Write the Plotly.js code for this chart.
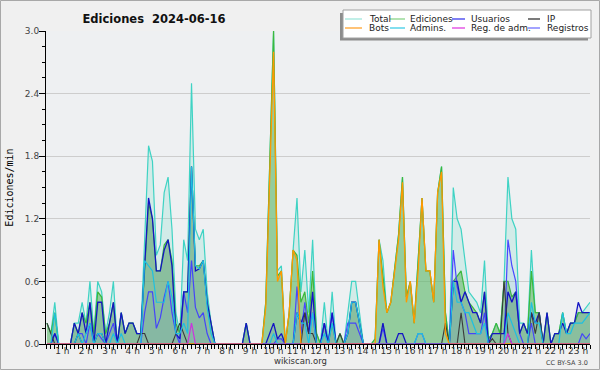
<!DOCTYPE html>
<html><head><meta charset="utf-8">
<script src="https://cdn.plot.ly/plotly-3.0.1.min.js"></script>
<style>html,body{margin:0;padding:0;background:#f0f0f0;}#chart{width:600px;height:370px;}</style>
</head><body><div id="chart"></div>
<script>
// Values in edits/min per 10-minute bin, starting at 00:00 (one row per hour)
const totalV = [
0.2,0.1,0.4,0,0,0,
0,0.2,0.2,0.4,0.2,0.6,
0.1,0.6,0.5,0.1,0.3,0.6,
0,0.3,0.1,0.2,0.2,0.1,
0.1,1.0,1.9,1.75,0.85,0.95,
1.45,1.6,1.1,0.3,0.1,1.0,
0.8,2.5,1.1,1.0,1.1,0.5,
0.2,0,0,0,0,0,
0,0,0,0.2,0,0,
0,0,0.4,1.8,3.0,0.7,
0.75,0,0.3,0.9,1.4,0.5,
0.9,0.3,1.0,0.1,0,0.4,
0,0.5,0,0.1,0,0.3,
0.6,0.6,0.3,0,0,0,
0.05,1.0,0.8,0.3,0.4,0.75,
1.05,1.6,0.45,0.6,0.2,0.8,
1.4,0.7,0.7,0.4,1.45,1.7,
0.3,0,1.5,1.2,1.1,0.8,
0.5,0.45,0.4,0.3,0.8,0.05,
0.1,0.2,0.1,0.6,1.6,1.2,
1.1,0.2,0.2,0.1,0.9,0.3,
0.3,0,0.3,0,0.1,0.1,
0.3,0.1,0.2,0.2,0.3,0.3,
0.35,0.4];
const edicionesV = [
0.2,0.1,0.3,0,0,0,
0,0.2,0.1,0.3,0.2,0.4,
0.1,0.5,0.45,0.1,0.2,0.4,
0,0.3,0.1,0.2,0.2,0.1,
0.1,0.7,1.35,1.2,0.7,0.7,
0.95,1.0,0.8,0.2,0.1,0.5,
0.5,1.7,0.75,0.75,0.8,0.4,
0.2,0,0,0,0,0,
0,0,0,0.2,0,0,
0,0,0.4,1.8,3.0,0.65,
0.7,0,0.3,0.9,0.85,0.4,
0.5,0.2,0.7,0.1,0,0.2,
0,0.2,0,0.1,0,0.1,
0.4,0.4,0.2,0,0,0,
0.05,1.0,0.65,0.3,0.4,0.75,
1.05,1.6,0.45,0.6,0.2,0.8,
1.4,0.7,0.7,0.4,1.45,1.7,
0.3,0,0.6,0.65,0.7,0.5,
0.4,0.35,0.3,0.2,0.5,0.05,
0.1,0.2,0.1,0.6,0.6,0.45,
0.5,0.1,0.2,0.1,0.7,0.3,
0.3,0,0.3,0,0.1,0.1,
0.3,0.1,0.2,0.2,0.3,0.3,
0.3,0.3];
const usuariosV = [
0,0,0.1,0,0,0,
0,0.2,0.1,0.3,0.1,0.4,
0,0.4,0.4,0,0.2,0.4,
0,0.3,0.1,0.2,0.2,0.1,
0.1,0.75,1.4,1.2,0.7,0.7,
0.9,1.0,0.75,0.1,0.05,0.5,
0.5,1.7,0.7,0.72,0.8,0.4,
0.2,0,0,0,0,0,
0,0,0,0.2,0,0,
0,0,0,0.1,0.2,0.05,
0.1,0,0,0,0.3,0.2,
0.3,0.1,0.5,0,0,0.2,
0,0.3,0,0,0,0.1,
0.4,0.4,0.2,0,0,0,
0,0,0.2,0,0,0,
0.1,0.1,0,0,0,0,
0,0,0,0,0,0,
0,0,0.6,0.6,0.4,0.5,
0.4,0.3,0.3,0.2,0.5,0,
0.1,0.1,0.1,0.1,0.5,0.4,
0.5,0.1,0.2,0.1,0.3,0.2,
0.3,0,0.3,0,0.1,0.1,
0.2,0.1,0.2,0.2,0.4,0.3,
0.3,0.3];
const ipV = [
0.2,0.1,0,0,0,0,
0,0,0.1,0,0,0,
0,0.1,0.1,0,0,0,
0,0,0,0,0,0,
0.1,0.1,0,0,0,0,
0,0,0,0.1,0.2,0.1,
0,0,0,0,0,0,
0,0,0,0,0,0,
0,0,0,0,0,0,
0,0,0,0,0,0,
0,0,0,0,0,0,
0.3,0.1,0.1,0,0,0,
0,0,0,0.1,0,0,
0,0,0,0,0,0,
0,0,0,0,0,0,
0,0,0,0,0,0,
0,0,0,0,0,0,
0.2,0,0,0,0.3,0,
0,0,0,0,0,0,
0.05,0,0,0.6,0.1,0,
0,0,0,0,0.3,0.1,
0.3,0,0,0,0,0,
0,0,0,0,0,0,
0,0];
const botsV = [
0,0,0,0,0,0,
0,0,0,0,0,0,
0,0,0,0,0,0,
0,0,0,0,0,0,
0,0,0,0,0,0,
0,0,0,0,0,0,
0,0,0,0,0,0,
0,0,0,0,0,0,
0,0,0,0,0,0,
0,0,0.35,1.7,2.8,0.6,
0.7,0,0.3,0.9,0.8,0,
0,0,0,0,0,0,
0,0,0,0,0,0,
0,0,0,0,0,0,
0,1.0,0.55,0.3,0.4,0.7,
1.0,1.55,0.4,0.6,0.2,0.7,
1.4,0.7,0.7,0.4,1.45,1.65,
0.1,0,0,0,0,0,
0,0,0,0,0,0,
0,0,0,0,0,0,
0,0,0,0,0,0,
0,0,0,0,0,0,
0,0,0,0,0,0,
0,0];
const adminsV = [
0,0,0.3,0,0,0,
0,0,0.1,0,0.1,0.2,
0,0.1,0.1,0,0,0.1,
0,0.1,0,0,0,0,
0,0.8,0.75,0.7,0.4,0.4,
0.4,0.6,0.45,0.1,0.1,0.2,
0.1,1.7,0.75,0.72,0.8,0.35,
0.1,0,0,0,0,0,
0,0,0,0,0,0,
0,0,0,0,0.1,0,
0,0,0,0,0.3,0.2,
0.2,0,0.3,0,0,0.1,
0,0.2,0,0,0,0.1,
0.4,0.4,0.2,0,0,0,
0,0,0,0,0,0,
0,0,0,0,0,0.1,
0.1,0,0,0,0,0,
0,0,0.6,0.4,0.4,0.3,
0.3,0.2,0.1,0.1,0.2,0,
0,0,0,0,0.3,0.2,
0.1,0,0,0,0.4,0.2,
0.2,0,0,0,0,0,
0.3,0.1,0.1,0.2,0.2,0.2,
0.25,0.3];
const regAdmV = [
0,0,0,0,0,0,
0,0,0,0,0,0,
0,0,0,0,0,0,
0,0,0,0,0,0,
0,0,0,0,0,0,
0,0,0,0,0,0,
0,0.2,0,0,0,0,
0,0,0,0,0,0,
0,0,0,0,0,0,
0,0,0,0,0,0,
0,0,0,0,0,0,
0,0,0,0,0,0,
0,0,0,0,0,0,
0,0,0,0,0,0,
0,0,0,0,0,0,
0,0,0,0,0,0,
0,0,0,0,0,0,
0,0,0,0,0,0,
0,0,0,0,0,0,
0,0,0,0,0.1,0,
0,0,0,0,0,0,
0,0,0,0,0,0,
0,0,0,0,0,0,
0,0];
const registrosV = [
0,0,0.1,0,0,0,
0,0,0.1,0.1,0,0.2,
0,0.1,0.05,0,0.1,0.2,
0,0,0,0,0,0,
0,0.3,0.5,0.5,0.15,0.25,
0.45,0.6,0.3,0.1,0,0.5,
0.3,0.8,0.35,0.25,0.3,0.1,
0,0,0,0,0,0,
0,0,0,0,0,0,
0,0,0,0,0,0.05,
0.05,0,0,0,0.55,0.1,
0.4,0.1,0.3,0,0,0.2,
0,0.3,0,0,0,0.2,
0.2,0.2,0.1,0,0,0,
0,0,0.15,0,0,0,
0,0,0,0,0,0.1,
0.1,0,0,0,0,0,
0,0,0.9,0.55,0.4,0.3,
0.1,0.1,0.1,0.1,0.3,0,
0,0,0,0,1.0,0.75,
0.6,0.1,0,0,0.2,0,
0,0,0,0,0,0,
0,0,0,0,0,0.1,
0.05,0.1];
const hourNums = [1,2,3,4,5,6,7,8,9,10,11,12,13,14,15,16,17,18,19,20,21,22,23];
const hourLabels = hourNums.map(h => h + ' h');
const seriesNames = ['Total','Ediciones','Usuarios','IP','Bots','Admins.','Reg. de adm.','Registros'];

const binsPerHour = 6;
const xs = totalV.map((_, i) => i);            // 10-minute bin index
const lastBin = xs[xs.length - 1];

const FONT = 'DejaVu Sans, sans-serif';
const L = 46, R = 590, T = 31, B = 344, W = R - L, H = B - T;
const px = x => (x - L) / W, py = y => (B - y) / H;

function tr(name, y, color, width, fill, fillcolor) {
  const t = {type:'scatter', mode:'lines', name, x: xs, y, showlegend:false,
    line:{color, width, shape:'linear'}, hoverinfo:'skip'};
  if (fill) { t.fill = 'tozeroy'; t.fillcolor = fillcolor; }
  return t;
}
const data = [
  tr('Total', totalV, '#3fd3c4', 1.2, true, 'rgba(100,215,195,0.2)'),
  tr('Ediciones', edicionesV, '#3cb83c', 1.2, true, 'rgba(95,180,95,0.55)'),
  tr('Registros', registrosV, '#4848ff', 1.2, true, 'rgba(80,80,255,0.06)'),
  tr('Usuarios', usuariosV, '#1414c4', 1.3, true, 'rgba(40,40,180,0.08)'),
  tr('IP', ipV, '#3a3a3a', 1.1, false),
  tr('Admins.', adminsV, '#1ec0e0', 1.2, false),
  tr('Bots', botsV, '#ff9900', 1.3, false),
  tr('Reg. de adm.', regAdmV, '#cc33dd', 1.2, false)
];

// manual legend (4 columns x 2 rows)
const legendCols = [[345,362,367],[390,405,408],[452,465,469],[528,540,545]];
const legendRows = [19, 28];
const legendColors = ['#9fe6dc','#88d488','#3c3cee','#333333','#ffa22e','#3fcde6','#e040e0','#7272ff'];
const shapes = [
  {type:'rect', xref:'paper', yref:'paper', x0:px(0.5), x1:px(599.5), y0:py(369.5), y1:py(0.5), line:{color:'#a8a8a8', width:1}, fillcolor:'rgba(0,0,0,0)', layer:'above'},
  {type:'rect', xref:'paper', yref:'paper', x0:px(340), x1:px(588), y0:py(40.5), y1:py(13), line:{width:0}, fillcolor:'#8c8c8c', layer:'above'},
  {type:'rect', xref:'paper', yref:'paper', x0:px(343), x1:px(591), y0:py(38), y1:py(10), line:{color:'#a0a0a0', width:1}, fillcolor:'#ffffff', layer:'above'}
];
const annotations = [];
seriesNames.forEach((nm, k) => {
  const col = k % 4, row = Math.floor(k / 4);
  const [a, b, tx] = legendCols[col];
  const yy = legendRows[row];
  shapes.push({type:'line', xref:'paper', yref:'paper', x0:px(a), x1:px(b), y0:py(yy), y1:py(yy), line:{color:legendColors[k], width:1.3}, layer:'above'});
  annotations.push({xref:'paper', yref:'paper', x:px(tx), y:py(yy), xanchor:'left', yanchor:'middle', text:nm, showarrow:false, font:{family:FONT, size:9, color:'#222'}});
});
annotations.push({xref:'paper', yref:'paper', x:px(300), y:py(361), xanchor:'center', yanchor:'middle', text:'wikiscan.org', showarrow:false, font:{family:FONT, size:8.5, color:'#333'}});
annotations.push({xref:'paper', yref:'paper', x:px(590), y:py(362.5), xanchor:'right', yanchor:'middle', text:'CC BY-SA 3.0', showarrow:false, font:{family:FONT, size:6.5, color:'#444'}});

const layout = {
  width:600, height:370,
  margin:{l:L, r:600-R, t:T, b:370-B, pad:0},
  paper_bgcolor:'#f0f0f0', plot_bgcolor:'#eef0f2',
  showlegend:false,
  title:{text:'Ediciones\u00a0\u00a02024-06-16', x:154/600, xanchor:'center', xref:'container', y:1-18.5/370, yanchor:'middle', yref:'container',
         font:{family:FONT, size:11.5, weight:'bold', color:'#111'}},
  xaxis:{range:[-0.25, lastBin], showgrid:false, zeroline:false, showline:true, linecolor:'#000', linewidth:1,
         tickmode:'array', tickvals:hourNums.map(h => h*binsPerHour - 2.05), ticktext:hourLabels, ticks:'',
         ticklabelstandoff:-2,
         tickfont:{family:FONT, size:9, color:'#333'},
         minor:{tickmode:'linear', tick0:0, dtick:1, ticks:'outside', ticklen:4, tickcolor:'#000', tickwidth:1, showgrid:false},
         fixedrange:true},
  yaxis:{range:[0,3.0], tickmode:'linear', tick0:0, dtick:0.6, tickformat:'.1f', ticks:'outside', ticklen:6, tickcolor:'#000',
         ticklabelstandoff:-2,
         showgrid:true, gridcolor:'#cdcdcd', gridwidth:1, zeroline:false, showline:true, linecolor:'#000', linewidth:1,
         tickfont:{family:FONT, size:9, color:'#444'},
         minor:{tickmode:'linear', tick0:0, dtick:0.15, ticks:'outside', ticklen:3, tickcolor:'#000', showgrid:false},
         title:{text:'Ediciones/min', font:{family:'DejaVu Sans Mono, monospace', size:10, color:'#000'}, standoff:9},
         fixedrange:true},
  shapes, annotations
};
Plotly.newPlot('chart', data, layout, {staticPlot:true, displayModeBar:false});
</script></body></html>
